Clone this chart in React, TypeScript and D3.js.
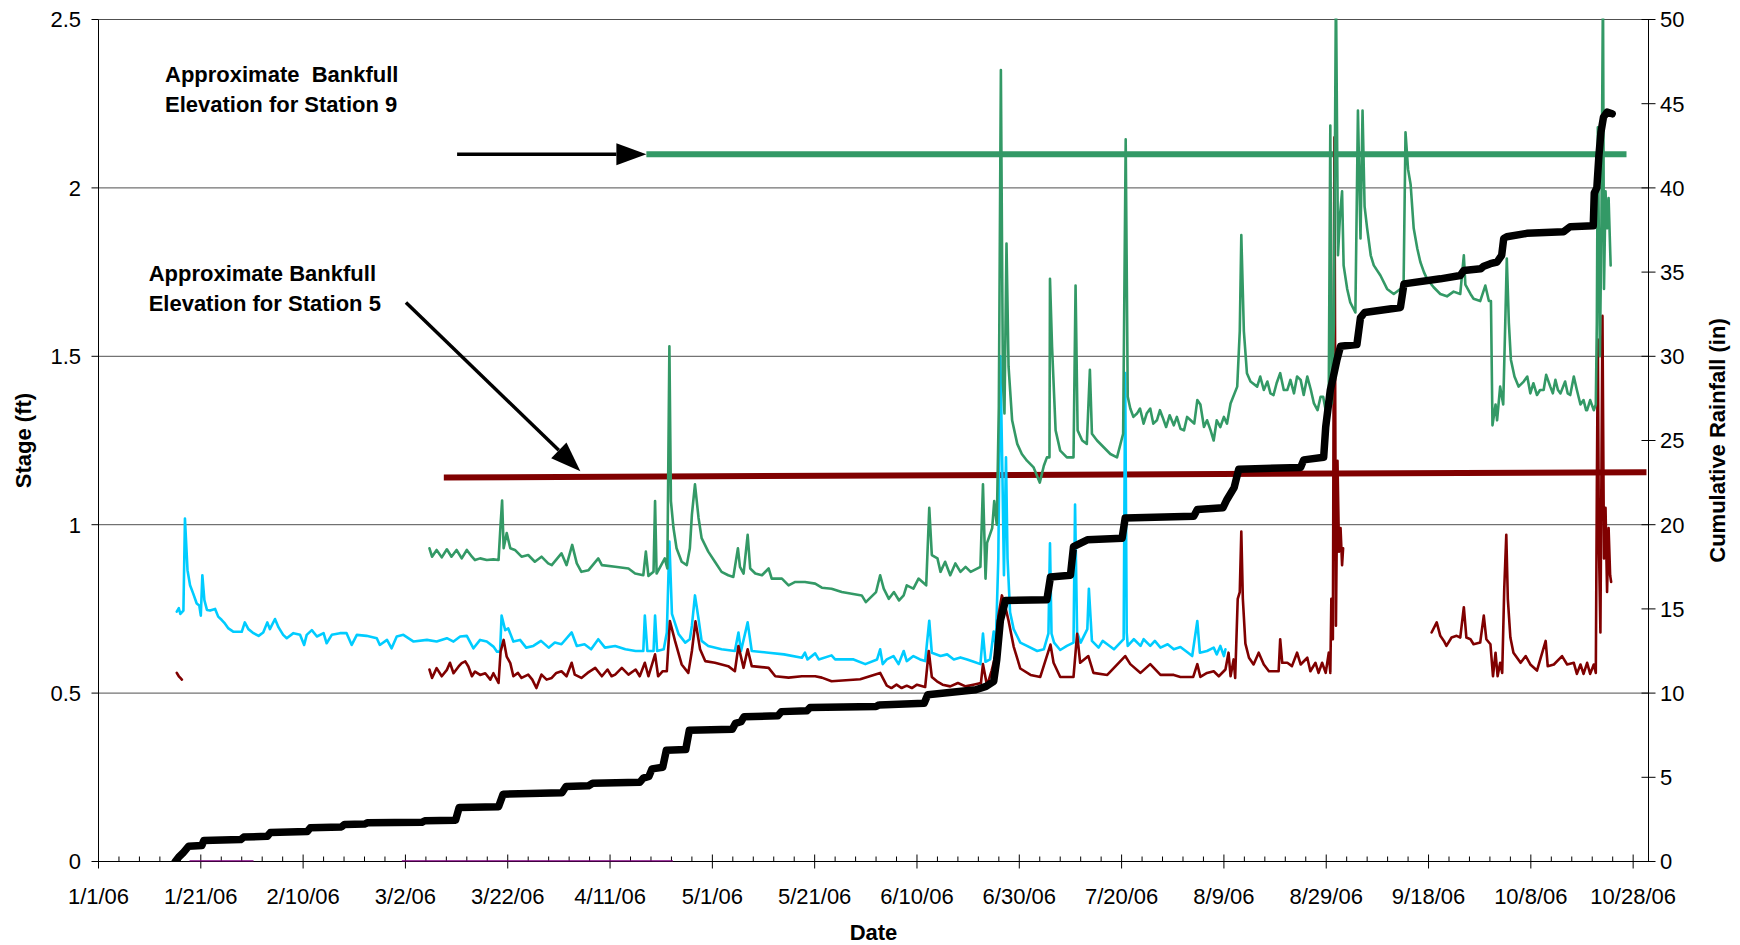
import React from "react";
import * as d3 from "d3";

type Pt = [number, number] | null;

// ---- axis / tick definitions ----
const X_TICK_LABELS = ["1/1/06", "1/21/06", "2/10/06", "3/2/06", "3/22/06", "4/11/06", "5/1/06", "5/21/06", "6/10/06", "6/30/06", "7/20/06", "8/9/06", "8/29/06", "9/18/06", "10/8/06", "10/28/06"];
const X_MAX_LABEL = "10/31/06";
const X_MINOR_STEP_DAYS = 4;
const STAGE_TICKS = [0, 0.5, 1, 1.5, 2, 2.5];
const RAIN_TICKS = [0, 5, 10, 15, 20, 25, 30, 35, 40, 45, 50];

// ---- data: [day since 1/1/06, value] ----
const cumulativeRainfall: Pt[] = [
  [15.0, 0], [15.8, 0.3], [16.5, 0.5], [17.6, 0.9], [20.2, 0.95], [20.6, 1.25], [27.8, 1.3], [28.4, 1.45], [33.0, 1.5], [33.6, 1.72],
  [40.8, 1.78], [41.4, 2.0], [47.5, 2.05], [48.1, 2.2], [52.0, 2.22], [52.6, 2.3], [63.2, 2.33], [63.8, 2.42], [69.8, 2.45], [70.5, 3.2],
  [78.2, 3.25], [79.1, 4.0], [90.6, 4.08], [91.4, 4.45], [95.8, 4.5], [96.6, 4.65], [105.8, 4.7], [106.5, 4.95], [107.6, 5.05], [108.2, 5.5],
  [110.3, 5.6], [111.0, 6.6], [114.8, 6.65], [115.5, 7.8], [123.9, 7.85], [124.5, 8.2], [125.6, 8.3], [126.2, 8.6], [132.8, 8.65], [133.5, 8.9],
  [138.5, 8.95], [139.1, 9.15], [152.0, 9.2], [152.6, 9.3], [161.4, 9.4], [162.1, 9.9], [171.5, 10.2], [173.5, 10.4], [175.0, 10.7], [175.6, 12.0],
  [176.3, 14.3], [177.3, 15.5], [185.4, 15.55], [186.1, 16.9], [190.0, 17.0], [190.6, 18.7], [193.3, 19.1], [200.1, 19.2], [200.7, 20.4], [214.1, 20.5],
  [214.8, 20.9], [219.8, 21.0], [220.6, 21.5], [222.0, 22.2], [222.9, 23.3], [235.0, 23.4], [235.6, 23.85], [239.5, 24.0], [239.9, 25.8], [240.8, 28.0],
  [241.4, 28.8], [242.1, 29.8], [242.8, 30.6], [246.0, 30.7], [246.7, 32.3], [247.5, 32.6], [254.5, 32.9], [255.2, 34.3], [262.3, 34.6], [266.2, 34.8],
  [266.9, 35.1], [270.2, 35.2], [270.8, 35.35], [272.1, 35.5], [273.4, 35.6], [274.3, 36.0], [274.7, 37.0], [275.3, 37.1], [279.2, 37.3], [286.4, 37.4],
  [287.7, 37.7], [292.2, 37.75], [292.4, 39.7], [292.9, 40.0], [293.3, 41.9], [293.7, 43.3], [294.2, 44.2], [294.9, 44.5], [295.9, 44.4],
];

const stageCyanStation: Pt[] = [
  [15.3, 0.742], [15.7, 0.752], [16.0, 0.735], [16.6, 0.745], [16.9, 1.018], [17.4, 0.865], [17.9, 0.82], [18.5, 0.796], [19.2, 0.766], [19.7, 0.76],
  [20.0, 0.73], [20.3, 0.85], [20.7, 0.776], [21.2, 0.747], [21.8, 0.745], [22.8, 0.75], [23.4, 0.727], [24.1, 0.717], [24.7, 0.707], [25.4, 0.692],
  [26.4, 0.682], [28.0, 0.682], [28.6, 0.71], [29.3, 0.69], [30.3, 0.678], [31.3, 0.67], [32.2, 0.68], [33.0, 0.71], [33.5, 0.69], [34.5, 0.72],
  [35.2, 0.695], [36.1, 0.673], [36.8, 0.663], [38.1, 0.678], [39.4, 0.673], [40.2, 0.643], [40.7, 0.673], [41.7, 0.687], [42.7, 0.668], [44.0, 0.678],
  [44.6, 0.648], [45.6, 0.673], [47.2, 0.678], [48.5, 0.678], [49.5, 0.643], [50.5, 0.673], [52.4, 0.67], [54.4, 0.663], [55.0, 0.643], [56.4, 0.658],
  [57.3, 0.633], [58.3, 0.668], [59.6, 0.673], [61.6, 0.653], [64.2, 0.658], [66.1, 0.653], [68.1, 0.663], [69.4, 0.653], [70.7, 0.668], [72.0, 0.67],
  [73.3, 0.633], [74.6, 0.658], [75.9, 0.653], [77.2, 0.638], [77.9, 0.623], [78.5, 0.623], [78.8, 0.73], [79.5, 0.687], [80.1, 0.692], [81.1, 0.653],
  [82.4, 0.658], [83.6, 0.635], [85.0, 0.64], [86.5, 0.655], [88.0, 0.635], [89.2, 0.65], [90.5, 0.645], [92.5, 0.68], [93.5, 0.64], [95.0, 0.645], [96.3, 0.63], [97.7, 0.66], [99.0, 0.635],
  [101.0, 0.64], [103.0, 0.63], [105.0, 0.625], [106.5, 0.625], [106.8, 0.73], [107.3, 0.625], [108.5, 0.625], [108.8, 0.73], [109.2, 0.625], [110.5, 0.63],
  [111.1, 0.68], [111.6, 0.95], [112.1, 0.735], [113.4, 0.675], [114.7, 0.65], [115.6, 0.66], [116.0, 0.7], [116.6, 0.79], [117.3, 0.72], [117.9, 0.655],
  [119.2, 0.64], [121.8, 0.63], [124.4, 0.625], [125.1, 0.68], [125.6, 0.625], [126.9, 0.71], [127.7, 0.625], [131.0, 0.62], [134.0, 0.615], [137.5, 0.605],
  [138.1, 0.62], [138.6, 0.6], [140.1, 0.618], [140.8, 0.6], [143.3, 0.612], [144.0, 0.6], [147.6, 0.6], [149.9, 0.586], [152.2, 0.6], [152.8, 0.63],
  [153.3, 0.586], [154.1, 0.6], [155.4, 0.61], [156.4, 0.586], [157.4, 0.625], [158.0, 0.595], [159.3, 0.61], [160.6, 0.6], [161.6, 0.595], [162.4, 0.715],
  [162.9, 0.62], [164.6, 0.61], [165.9, 0.615], [167.2, 0.6], [168.5, 0.606], [169.8, 0.6], [171.1, 0.593], [172.4, 0.586], [172.9, 0.677], [173.4, 0.593],
  [174.3, 0.6], [175.0, 0.683], [175.4, 0.64], [175.9, 0.9], [176.3, 1.5], [176.7, 1.15], [177.0, 0.85], [177.4, 1.2], [177.7, 0.9], [178.2, 0.74],
  [178.9, 0.69], [180.2, 0.65], [181.5, 0.64], [183.5, 0.625], [184.8, 0.63], [185.7, 0.677], [186.0, 0.945], [186.3, 0.677], [186.8, 0.65], [188.0, 0.628], [189.3, 0.64],
  [190.6, 0.65], [190.9, 1.06], [191.3, 0.68], [192.0, 0.65], [193.3, 0.69], [193.6, 0.81], [194.2, 0.655], [195.5, 0.635], [196.3, 0.655], [197.2, 0.645], [198.5, 0.63],
  [200.4, 0.66], [200.7, 1.45], [201.0, 0.68], [201.2, 0.64], [202.4, 0.66], [203.7, 0.64], [204.3, 0.66], [205.6, 0.64], [206.5, 0.655], [207.6, 0.635], [209.0, 0.645], [210.2, 0.63],
  [211.5, 0.637], [212.8, 0.622], [213.8, 0.61], [214.8, 0.714], [215.3, 0.62], [216.7, 0.625], [218.0, 0.635], [218.6, 0.615], [219.3, 0.64], [220.0, 0.61], [220.3, 0.63],
];

const stageStation5: Pt[] = [
  [15.3, 0.56], [15.7, 0.55], [16.0, 0.545], [16.3, 0.54], null,
  [64.7, 0.57], [65.2, 0.545], [66.1, 0.574], [67.1, 0.55], [68.1, 0.569], [68.7, 0.59], [69.4, 0.559], [70.4, 0.579], [71.0, 0.589], [71.7, 0.594],
  [72.3, 0.579], [73.0, 0.55], [73.6, 0.564], [74.6, 0.554], [75.6, 0.559], [76.6, 0.54], [77.2, 0.559], [78.2, 0.53], [78.6, 0.623], [79.2, 0.658],
  [79.8, 0.608], [80.5, 0.589], [81.1, 0.55], [82.0, 0.56], [82.7, 0.545], [84.0, 0.555], [84.8, 0.54], [85.6, 0.515], [86.6, 0.555], [87.6, 0.54], [88.6, 0.545], [89.5, 0.56], [90.5, 0.565],
  [91.5, 0.55], [92.5, 0.59], [93.1, 0.555], [94.4, 0.545], [95.6, 0.56], [97.1, 0.575], [98.4, 0.55], [99.5, 0.57], [100.3, 0.55], [101.0, 0.555], [102.3, 0.575], [103.6, 0.555], [105.0, 0.57],
  [105.8, 0.55], [106.8, 0.59], [107.5, 0.55], [108.8, 0.615], [109.4, 0.55], [110.3, 0.565], [111.1, 0.565], [111.7, 0.714], [112.7, 0.655], [114.0, 0.585], [115.3, 0.56], [116.0, 0.625],
  [116.7, 0.713], [117.6, 0.63], [118.6, 0.595], [120.5, 0.59], [123.1, 0.58], [124.4, 0.565], [125.1, 0.64], [126.1, 0.575], [126.9, 0.63], [127.7, 0.58],
  [131.0, 0.575], [132.3, 0.55], [134.9, 0.546], [137.5, 0.55], [140.1, 0.55], [141.4, 0.546], [143.3, 0.535], [148.9, 0.541], [152.8, 0.56], [154.1, 0.522],
  [155.0, 0.515], [156.0, 0.525], [157.0, 0.515], [158.0, 0.522], [159.0, 0.515], [160.0, 0.525], [161.6, 0.518], [162.3, 0.625], [162.9, 0.548], [163.9, 0.535],
  [165.0, 0.525], [166.5, 0.52], [168.0, 0.53], [169.5, 0.52], [171.0, 0.525], [172.5, 0.53], [172.9, 0.586], [173.7, 0.522], [174.6, 0.567], [175.3, 0.61],
  [175.9, 0.728], [176.6, 0.79], [177.3, 0.754], [177.9, 0.715], [178.9, 0.638], [180.2, 0.573], [182.2, 0.554], [184.1, 0.548], [186.1, 0.644], [186.7, 0.59],
  [188.0, 0.548], [190.6, 0.548], [191.3, 0.676], [191.9, 0.59], [193.5, 0.61], [194.5, 0.56], [197.2, 0.554], [200.7, 0.61], [201.7, 0.586], [203.7, 0.56],
  [205.6, 0.586], [207.6, 0.554], [210.2, 0.554], [211.5, 0.548], [214.0, 0.548], [214.8, 0.586], [215.4, 0.548], [216.7, 0.56], [218.0, 0.565], [219.0, 0.55],
  [220.3, 0.57], [220.9, 0.62], [221.3, 0.55], [221.9, 0.6], [222.2, 0.545], [222.7, 0.78], [223.1, 0.8], [223.4, 0.98], [223.7, 0.78], [224.2, 0.647],
  [224.9, 0.605], [225.8, 0.585], [226.8, 0.62], [227.8, 0.585], [228.8, 0.565], [230.7, 0.565], [231.0, 0.66], [231.4, 0.59], [232.4, 0.59], [233.3, 0.58],
  [234.3, 0.62], [235.0, 0.585], [236.3, 0.605], [236.9, 0.565], [237.9, 0.59], [238.5, 0.56], [239.2, 0.59], [239.9, 0.56], [240.5, 0.62], [240.8, 0.56],
  [241.0, 0.78], [241.3, 0.66], [241.6, 2.15], [241.9, 0.7], [242.2, 1.19], [242.5, 0.92], [242.8, 0.99], [243.1, 0.88], [243.3, 0.93], null,
  [260.6, 0.68], [261.6, 0.71], [262.3, 0.67], [263.0, 0.655], [263.5, 0.64], [264.5, 0.665], [265.5, 0.67], [266.2, 0.665], [266.9, 0.755], [267.4, 0.665],
  [268.2, 0.66], [268.8, 0.645], [270.1, 0.65], [270.8, 0.73], [271.3, 0.66], [272.1, 0.645], [272.6, 0.55], [273.1, 0.62], [273.5, 0.55], [274.0, 0.59],
  [274.4, 0.56], [274.8, 0.81], [275.2, 0.97], [275.5, 0.78], [276.0, 0.665], [276.6, 0.62], [278.0, 0.59], [279.0, 0.61], [279.9, 0.585], [281.2, 0.567],
  [282.9, 0.655], [283.3, 0.58], [284.5, 0.585], [286.1, 0.61], [287.1, 0.585], [288.4, 0.59], [289.0, 0.557], [289.7, 0.585], [290.3, 0.557], [291.0, 0.59],
  [291.6, 0.557], [292.3, 0.585], [292.7, 0.56], [292.9, 1.1], [293.1, 1.55], [293.3, 0.95], [293.6, 0.68], [294.0, 1.62], [294.3, 0.9], [294.6, 1.05],
  [294.9, 0.8], [295.2, 0.99], [295.5, 0.85], [295.7, 0.83],
];

const stageStation9: Pt[] = [
  [64.7, 0.93], [65.2, 0.905], [66.1, 0.925], [67.1, 0.903], [68.1, 0.927], [69.0, 0.905], [70.0, 0.925], [71.0, 0.9], [72.0, 0.925], [73.0, 0.905],
  [73.6, 0.895], [74.6, 0.9], [75.9, 0.895], [77.2, 0.897], [78.2, 0.895], [78.6, 1.0], [78.9, 1.072], [79.2, 0.93], [79.8, 0.975], [80.5, 0.93],
  [81.4, 0.925], [82.7, 0.905], [84.0, 0.91], [85.3, 0.89], [86.6, 0.905], [87.9, 0.885], [88.6, 0.88], [90.5, 0.915], [91.5, 0.88], [92.6, 0.94],
  [93.5, 0.885], [94.4, 0.86], [95.8, 0.865], [97.7, 0.9], [98.4, 0.88], [101.0, 0.875], [103.6, 0.87], [104.9, 0.855], [106.5, 0.85], [107.0, 0.92],
  [107.5, 0.848], [108.5, 0.86], [108.8, 1.07], [109.1, 0.855], [110.7, 0.9], [111.2, 0.87], [111.6, 1.53], [111.9, 1.07], [112.4, 0.99], [113.0, 0.93],
  [114.0, 0.89], [115.0, 0.88], [115.6, 0.93], [116.0, 1.03], [116.6, 1.12], [117.3, 1.02], [117.9, 0.96], [119.2, 0.92], [120.5, 0.89], [121.8, 0.86],
  [123.1, 0.85], [124.1, 0.845], [125.0, 0.93], [125.4, 0.875], [126.1, 0.855], [126.9, 0.97], [127.4, 0.87], [128.4, 0.855], [129.7, 0.85], [131.0, 0.87],
  [131.6, 0.84], [133.6, 0.84], [134.9, 0.82], [136.2, 0.83], [138.1, 0.83], [140.1, 0.825], [141.4, 0.813], [143.3, 0.81], [145.3, 0.8], [149.2, 0.79],
  [150.0, 0.77], [152.0, 0.8], [152.8, 0.85], [153.5, 0.81], [154.5, 0.78], [155.5, 0.8], [156.5, 0.775], [157.4, 0.79], [158.0, 0.82], [159.3, 0.81],
  [160.3, 0.84], [161.8, 0.82], [162.4, 1.05], [162.9, 0.91], [164.0, 0.9], [164.6, 0.86], [165.5, 0.89], [166.5, 0.85], [167.5, 0.885], [168.5, 0.86],
  [169.5, 0.875], [170.5, 0.86], [172.4, 0.875], [172.9, 1.12], [173.4, 0.84], [173.7, 0.946], [174.7, 0.99], [175.1, 1.07], [175.6, 1.0], [176.0, 1.35],
  [176.4, 2.35], [176.8, 1.42], [177.1, 1.33], [177.5, 1.835], [177.9, 1.47], [178.6, 1.31], [179.6, 1.24], [180.5, 1.21], [181.5, 1.19], [182.8, 1.17],
  [184.0, 1.125], [184.8, 1.175], [185.4, 1.2], [185.9, 1.2], [186.0, 1.73], [186.4, 1.53], [187.1, 1.28], [188.0, 1.22], [189.3, 1.2], [190.6, 1.2],
  [191.0, 1.71], [191.4, 1.28], [192.3, 1.25], [193.2, 1.24], [193.8, 1.46], [194.2, 1.27], [195.2, 1.25], [196.5, 1.23], [197.8, 1.21], [199.1, 1.2],
  [200.3, 1.27], [200.8, 2.144], [201.2, 1.38], [201.7, 1.345], [202.3, 1.32], [203.0, 1.33], [203.6, 1.345], [204.3, 1.3], [204.9, 1.33], [205.6, 1.345],
  [206.2, 1.3], [206.9, 1.31], [207.5, 1.34], [208.0, 1.32], [208.7, 1.29], [209.4, 1.325], [210.2, 1.295], [210.8, 1.32], [211.5, 1.285], [212.2, 1.28],
  [212.8, 1.32], [213.5, 1.31], [214.2, 1.3], [214.8, 1.37], [215.4, 1.357], [216.1, 1.29], [216.7, 1.31], [217.4, 1.28], [218.0, 1.25], [218.6, 1.31], [219.3, 1.29],
  [220.0, 1.32], [220.6, 1.3], [221.3, 1.36], [222.6, 1.41], [223.1, 1.575], [223.4, 1.86], [223.9, 1.575], [224.5, 1.45], [225.2, 1.425], [226.5, 1.41],
  [227.1, 1.44], [227.8, 1.4], [228.5, 1.425], [229.1, 1.39], [229.7, 1.385], [230.3, 1.42], [231.0, 1.45], [231.7, 1.4], [232.4, 1.4], [233.0, 1.43],
  [233.7, 1.39], [234.3, 1.44], [235.0, 1.43], [235.6, 1.385], [236.3, 1.44], [237.0, 1.4], [237.6, 1.36], [238.3, 1.34], [238.9, 1.38], [239.4, 1.38],
  [239.9, 1.34], [240.5, 1.4], [240.8, 2.185], [241.1, 1.36], [241.5, 1.6], [241.9, 2.6], [242.3, 1.8], [242.7, 1.92], [243.1, 1.99], [243.4, 1.77],
  [244.1, 1.7], [244.7, 1.66], [245.7, 1.63], [246.2, 2.23], [246.7, 1.85], [247.1, 2.23], [247.5, 1.945], [248.0, 1.88], [248.7, 1.8], [249.3, 1.77],
  [250.6, 1.74], [251.9, 1.7], [253.2, 1.685], [254.5, 1.7], [255.1, 1.685], [255.5, 2.165], [256.0, 2.055], [256.5, 2.01], [257.1, 1.88], [257.8, 1.82],
  [258.4, 1.78], [259.1, 1.75], [259.7, 1.73], [261.0, 1.705], [262.3, 1.685], [263.6, 1.678], [264.9, 1.692], [266.2, 1.685], [266.9, 1.8], [267.2, 1.713],
  [268.2, 1.685], [268.8, 1.671], [270.1, 1.664], [271.1, 1.71], [271.8, 1.664], [272.2, 1.664], [272.5, 1.295], [273.1, 1.357], [273.4, 1.31], [274.0, 1.41],
  [274.6, 1.357], [275.0, 1.6], [275.3, 1.79], [275.7, 1.6], [276.1, 1.49], [276.8, 1.44], [277.6, 1.41], [278.6, 1.425], [279.3, 1.44], [279.9, 1.39],
  [280.5, 1.42], [281.2, 1.385], [281.8, 1.4], [282.5, 1.4], [283.0, 1.445], [283.8, 1.41], [284.3, 1.39], [284.8, 1.43], [285.3, 1.4], [285.8, 1.39], [286.7, 1.425],
  [287.2, 1.39], [287.7, 1.385], [288.4, 1.44], [289.0, 1.4], [289.7, 1.357], [290.3, 1.37], [290.8, 1.34], [291.0, 1.34], [291.6, 1.37], [292.3, 1.34], [292.7, 1.357],
  [292.9, 1.6], [293.1, 2.18], [293.5, 1.5], [293.8, 1.9], [294.1, 2.6], [294.3, 1.7], [294.6, 1.99], [294.9, 1.88], [295.2, 1.97], [295.6, 1.77],
];

const stageZeroStation: Pt[] = [[17.8, 0], [30.3, 0], null, [59.3, 0], [112.3, 0]];

// ---- annotations (data coordinates: [day, stage]) ----
const bankfullStation9: [number, number][] = [[107.1, 2.1], [298.7, 2.1]];
const bankfullStation5: [number, number][] = [[67.5, 1.14], [302.6, 1.156]];
const arrowStation9: [number, number][] = [[70.1, 2.1], [107.1, 2.1]];
const arrowStation5: [number, number][] = [[60.1, 1.66], [94.2, 1.159]];
const label9Lines = ["Approximate  Bankfull", "Elevation for Station 9"];
const label9Pos: [number, number] = [13.0, 2.313];
const label5Lines = ["Approximate Bankfull", "Elevation for Station 5"];
const label5Pos: [number, number] = [9.8, 1.725];

// ---- layout / style ----
const W = 1740, H = 945;
const LEFT = 98.5, RIGHT = 1648.5, TOP = 19.5, BOTTOM = 861.5;
const FONT = "'Liberation Sans', Arial, Helvetica, sans-serif";
const C_CYAN = "#00CCFF", C_RED = "#800000", C_GREEN = "#339966", C_PURPLE = "#800080";

const parseDate = d3.timeParse("%m/%d/%y");
const day0 = parseDate(X_TICK_LABELS[0]) as Date;
const toDay = (s: string) => d3.timeDay.count(day0, parseDate(s) as Date);

export default function App() {
  const xMax = toDay(X_MAX_LABEL);
  const x = d3.scaleLinear().domain([0, xMax]).range([LEFT, RIGHT]);
  const yS = d3.scaleLinear().domain([0, 2.5]).range([BOTTOM, TOP]);
  const yR = d3.scaleLinear().domain([0, 50]).range([BOTTOM, TOP]);

  const majorDays = X_TICK_LABELS.map(toDay);
  const minorDays = d3.range(0, xMax + 0.001, X_MINOR_STEP_DAYS).filter((d) => !majorDays.includes(d));

  const stageLine = d3.line<Pt>().defined((d) => d !== null).x((d) => x((d as [number, number])[0])).y((d) => yS((d as [number, number])[1]));
  const rainLine = d3.line<Pt>().defined((d) => d !== null).x((d) => x((d as [number, number])[0])).y((d) => yR((d as [number, number])[1]));
  const annLine = d3.line<[number, number]>().x((d) => x(d[0])).y((d) => yS(d[1]));

  const arrow = (pts: [number, number][], key: string) => {
    const [x1, y1] = [x(pts[0][0]), yS(pts[0][1])];
    const [x2, y2] = [x(pts[1][0]), yS(pts[1][1])];
    const ang = Math.atan2(y2 - y1, x2 - x1);
    const len = 30, half = 11;
    const bx = x2 - len * Math.cos(ang), by = y2 - len * Math.sin(ang);
    const px = -Math.sin(ang) * half, py = Math.cos(ang) * half;
    return (
      <g key={key}>
        <line x1={x1} y1={y1} x2={bx} y2={by} stroke="#000" strokeWidth={3.5} />
        <polygon points={`${x2},${y2} ${bx + px},${by + py} ${bx - px},${by - py}`} fill="#000" />
      </g>
    );
  };

  return (
    <svg width={W} height={H} style={{ position: "absolute", left: 0, top: 0, background: "#fff" }} fontFamily={FONT}>
      <defs>
        <clipPath id="plot">
          <rect x={LEFT} y={TOP - 1} width={RIGHT - LEFT + 2} height={BOTTOM - TOP + 1} />
        </clipPath>
      </defs>
      <rect x={0} y={0} width={W} height={H} fill="#fff" />

      {/* gridlines */}
      {STAGE_TICKS.filter((t) => t > 0).map((t) => (
        <line key={"g" + t} x1={LEFT} x2={RIGHT} y1={yS(t)} y2={yS(t)} stroke="#505050" strokeWidth={1} />
      ))}

      {/* axes lines */}
      <line x1={LEFT} x2={LEFT} y1={TOP} y2={BOTTOM} stroke="#000" strokeWidth={1} />
      <line x1={RIGHT} x2={RIGHT} y1={TOP} y2={BOTTOM} stroke="#000" strokeWidth={1} />
      <line x1={LEFT} x2={RIGHT} y1={BOTTOM} y2={BOTTOM} stroke="#000" strokeWidth={1} />

      {/* left ticks */}
      {STAGE_TICKS.map((t) => (
        <g key={"ls" + t}>
          <line x1={LEFT - 7} x2={LEFT} y1={yS(t)} y2={yS(t)} stroke="#000" />
          <text x={81} y={yS(t)} dy="0.36em" textAnchor="end" fontSize={22}>{String(t)}</text>
        </g>
      ))}
      {/* right ticks */}
      {RAIN_TICKS.map((t) => (
        <g key={"rs" + t}>
          <line x1={RIGHT - 7} x2={RIGHT + 7} y1={yR(t)} y2={yR(t)} stroke="#000" />
          <text x={1660} y={yR(t)} dy="0.36em" textAnchor="start" fontSize={22}>{String(t)}</text>
        </g>
      ))}
      {/* bottom ticks */}
      {minorDays.map((d) => (
        <line key={"mn" + d} x1={x(d)} x2={x(d)} y1={BOTTOM - 5} y2={BOTTOM} stroke="#000" />
      ))}
      {majorDays.map((d, i) => (
        <g key={"mj" + d}>
          <line x1={x(d)} x2={x(d)} y1={BOTTOM - 7} y2={BOTTOM + 7} stroke="#000" />
          <text x={x(d)} y={904} textAnchor="middle" fontSize={22}>{X_TICK_LABELS[i]}</text>
        </g>
      ))}

      {/* bankfull lines */}
      <path d={annLine(bankfullStation5) || ""} stroke={C_RED} strokeWidth={6} fill="none" />
      <path d={annLine(bankfullStation9) || ""} stroke={C_GREEN} strokeWidth={6} fill="none" />
      {arrow(arrowStation9, "a9")}
      {arrow(arrowStation5, "a5")}

      {/* series */}
      <g clipPath="url(#plot)" fill="none" strokeLinejoin="round" strokeLinecap="round">
        <path d={stageLine(stageCyanStation) || ""} stroke={C_CYAN} strokeWidth={2.6} />
        <path d={stageLine(stageStation5) || ""} stroke={C_RED} strokeWidth={2.6} />
        <path d={stageLine(stageStation9) || ""} stroke={C_GREEN} strokeWidth={2.6} />
        <path d={stageLine(stageZeroStation) || ""} stroke={C_PURPLE} strokeWidth={2.5} strokeLinecap="butt" />
        <path d={rainLine(cumulativeRainfall) || ""} stroke="#000" strokeWidth={7.5} />
      </g>

      {/* annotation labels */}
      {label9Lines.map((s, i) => (
        <text key={"l9" + i} x={x(label9Pos[0])} y={yS(label9Pos[1]) + i * 30} fontSize={22} fontWeight="bold" style={{ whiteSpace: "pre" }}>{s}</text>
      ))}
      {label5Lines.map((s, i) => (
        <text key={"l5" + i} x={x(label5Pos[0])} y={yS(label5Pos[1]) + i * 30} fontSize={22} fontWeight="bold" style={{ whiteSpace: "pre" }}>{s}</text>
      ))}

      {/* axis titles */}
      <text x={(LEFT + RIGHT) / 2} y={940} textAnchor="middle" fontSize={22} fontWeight="bold">Date</text>
      <text transform={`translate(31,${(TOP + BOTTOM) / 2}) rotate(-90)`} textAnchor="middle" fontSize={22} fontWeight="bold">Stage (ft)</text>
      <text transform={`translate(1725,${(TOP + BOTTOM) / 2}) rotate(-90)`} textAnchor="middle" fontSize={22} fontWeight="bold">Cumulative Rainfall (in)</text>
    </svg>
  );
}
